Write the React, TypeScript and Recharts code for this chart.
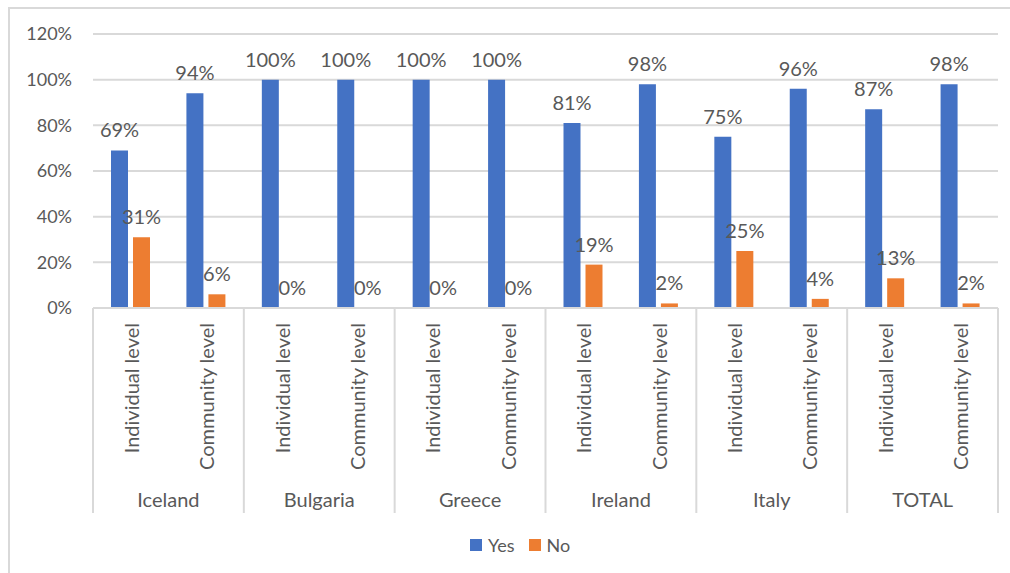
import React from "react";
import { BarChart, Bar, XAxis, YAxis, CartesianGrid, LabelList } from "recharts";

const countries = ["Iceland", "Bulgaria", "Greece", "Ireland", "Italy", "TOTAL"];
const levels = ["Individual level", "Community level"];
const yesValues = [0.69, 0.94, 1, 1, 1, 1, 0.81, 0.98, 0.75, 0.96, 0.87, 0.98];
const noValues = [0.31, 0.06, 0, 0, 0, 0, 0.19, 0.02, 0.25, 0.04, 0.13, 0.02];
const yTicks = [0, 0.2, 0.4, 0.6, 0.8, 1, 1.2];
const seriesNames = ["Yes", "No"];

const data = yesValues.map((yes, i) => ({
  level: levels[i % 2],
  country: countries[Math.floor(i / 2)],
  yes,
  no: noValues[i],
}));

const W = 1010;
const H = 573;
const MARGIN = { top: 34, right: 12, left: 0, bottom: 60 };
const Y_AXIS_W = 93;
const X_AXIS_H = 205;
const BAND = (W - MARGIN.left - MARGIN.right - Y_AXIS_W) / data.length;

const FONT = "Lato, 'Open Sans', sans-serif";
const TEXT = "#595959";
const LINE = "#D9D9D9";
const BLUE = "#4472C4";
const ORANGE = "#ED7D31";

const pct = (v: any) => `${Math.round(Number(v) * 100)}%`;

function LevelTick(props: any) {
  const { x, y, payload, index } = props;
  const first = index % 2 === 0;
  const last = index === data.length - 1;
  return (
    <g>
      <text
        transform={`translate(${x},${y + 15}) rotate(-90)`}
        textAnchor="end"
        dominantBaseline="central"
        fontSize={20}
        fontFamily={FONT}
        fill={TEXT}
      >
        {payload.value}
      </text>
      {first && (
        <>
          <line x1={x - BAND / 2} x2={x - BAND / 2} y1={y} y2={y + X_AXIS_H} stroke={LINE} strokeWidth={2} />
          <text
            x={x + BAND / 2}
            y={y + 191}
            textAnchor="middle"
            dominantBaseline="central"
            fontSize={20}
            fontFamily={FONT}
            fill={TEXT}
          >
            {data[index].country}
          </text>
        </>
      )}
      {last && (
        <line x1={x + BAND / 2} x2={x + BAND / 2} y1={y} y2={y + X_AXIS_H} stroke={LINE} strokeWidth={2} />
      )}
    </g>
  );
}

export default function App() {
  const colors = [BLUE, ORANGE];
  return (
    <div style={{ position: "absolute", left: 0, top: 0, width: W, height: H, background: "#fff" }}>
      <div
        style={{
          position: "absolute",
          left: 8,
          top: 7,
          width: W,
          height: H,
          borderLeft: `2px solid ${LINE}`,
          borderTop: `2px solid ${LINE}`,
        }}
      />
      <div style={{ position: "absolute", left: 0, top: 0 }}>
        <BarChart width={W} height={H} data={data} margin={MARGIN} barSize={17} barGap={5}>
          <CartesianGrid vertical={false} stroke={LINE} strokeWidth={2} />
          <XAxis
            dataKey="level"
            height={X_AXIS_H}
            interval={0}
            tickSize={0}
            tickMargin={0}
            tickLine={false}
            axisLine={{ stroke: LINE, strokeWidth: 2 }}
            tick={<LevelTick />}
          />
          <YAxis
            width={Y_AXIS_W}
            domain={[0, 1.2]}
            ticks={yTicks}
            tickFormatter={pct}
            axisLine={false}
            tickLine={false}
            tickMargin={15}
            tick={{ fontSize: 18, fill: TEXT, fontFamily: FONT }}
          />
          <Bar dataKey="yes" name={seriesNames[0]} fill={BLUE} minPointSize={0.01} isAnimationActive={false}>
            <LabelList dataKey="yes" position="top" offset={13} formatter={pct} fill={TEXT} fontSize={20} fontFamily={FONT} />
          </Bar>
          <Bar dataKey="no" name={seriesNames[1]} fill={ORANGE} minPointSize={0.01} isAnimationActive={false}>
            <LabelList dataKey="no" position="top" offset={13} formatter={pct} fill={TEXT} fontSize={20} fontFamily={FONT} />
          </Bar>
        </BarChart>
      </div>
      <div
        style={{
          position: "absolute",
          left: 470,
          top: 534,
          display: "flex",
          alignItems: "center",
          fontFamily: FONT,
          fontSize: 18,
          color: TEXT,
        }}
      >
        {seriesNames.map((name, i) => (
          <div key={name} style={{ display: "flex", alignItems: "center", marginRight: 14 }}>
            <span style={{ width: 12, height: 12, background: colors[i], marginRight: 6, display: "inline-block" }} />
            <span>{name}</span>
          </div>
        ))}
      </div>
    </div>
  );
}
